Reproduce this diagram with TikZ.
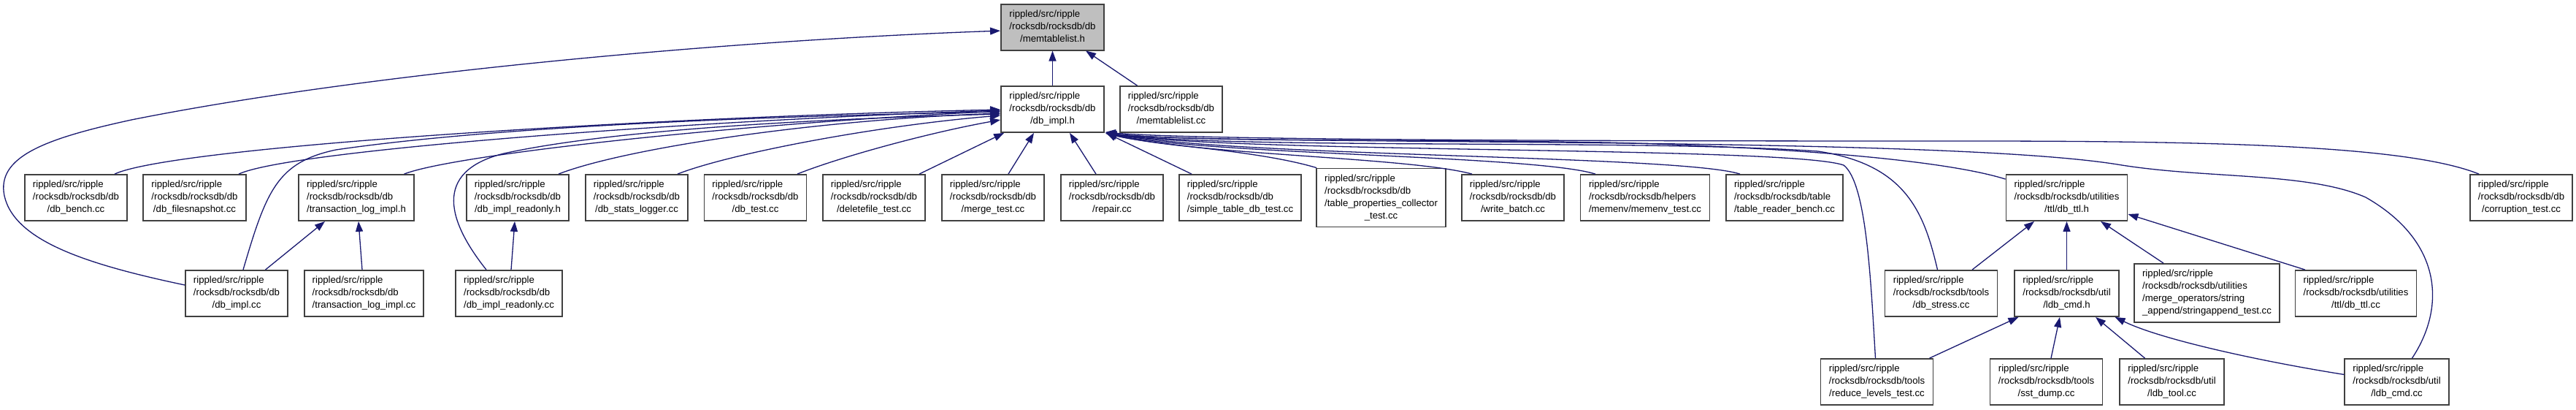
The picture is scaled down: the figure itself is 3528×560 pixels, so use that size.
\documentclass[tikz,border=0pt]{standalone}
\usepackage{fontspec}
\setmainfont{Liberation Sans}
\usetikzlibrary{arrows.meta}
\definecolor{edgeblue}{HTML}{191970}
\definecolor{rootgray}{HTML}{BFBFBF}
\definecolor{boxline}{HTML}{404040}
\newcommand{\dlbl}[3]{\begin{tabular}{@{}l@{}}#1\\#2\\\multicolumn{1}{@{}c@{}}{#3}\end{tabular}}
\newcommand{\dlblq}[4]{\begin{tabular}{@{}l@{}}#1\\#2\\#3\\\multicolumn{1}{@{}c@{}}{#4}\end{tabular}}
\begin{document}
\begin{tikzpicture}[x=1pt,y=-1pt,
  filebox/.style={draw=boxline,line width=1.8pt,fill=white,rectangle,inner xsep=11pt,inner ysep=6pt,minimum height=63pt,font=\fontsize{13.2}{17}\selectfont},
  rootbox/.style={filebox,fill=rootgray},
  dep/.style={draw=edgeblue,line width=1.3pt,-{Triangle[length=14pt,width=10pt]}}]
\fill[white] (0,0) rectangle (3528,560);
\useasboundingbox (0,0) rectangle (3528,560);
% row 1
\node[rootbox,minimum width=141pt] (mth) at (1441.5,37.1) {\dlbl{rippled/src/ripple}{/rocksdb/rocksdb/db}{/memtablelist.h}};
% row 2
\node[filebox,minimum width=141pt] (dbih) at (1441.5,149.5) {\dlbl{rippled/src/ripple}{/rocksdb/rocksdb/db}{/db\_impl.h}};
\node[filebox,minimum width=140pt] (mtcc) at (1604,149.5) {\dlbl{rippled/src/ripple}{/rocksdb/rocksdb/db}{/memtablelist.cc}};
% row 3
\node[filebox,minimum width=140pt] (dbbench) at (104,270.5) {\dlbl{rippled/src/ripple}{/rocksdb/rocksdb/db}{/db\_bench.cc}};
\node[filebox,minimum width=141pt] (fsnap) at (266.5,270.5) {\dlbl{rippled/src/ripple}{/rocksdb/rocksdb/db}{/db\_filesnapshot.cc}};
\node[filebox,minimum width=155pt] (tlih) at (488,270.5) {\dlbl{rippled/src/ripple}{/rocksdb/rocksdb/db}{/transaction\_log\_impl.h}};
\node[filebox,minimum width=140pt] (dbroh) at (709,270.5) {\dlbl{rippled/src/ripple}{/rocksdb/rocksdb/db}{/db\_impl\_readonly.h}};
\node[filebox,minimum width=140pt] (statslog) at (872,270.5) {\dlbl{rippled/src/ripple}{/rocksdb/rocksdb/db}{/db\_stats\_logger.cc}};
\node[filebox,minimum width=140pt] (dbtest) at (1034.5,270.5) {\dlbl{rippled/src/ripple}{/rocksdb/rocksdb/db}{/db\_test.cc}};
\node[filebox,minimum width=140pt] (delfile) at (1197,270.5) {\dlbl{rippled/src/ripple}{/rocksdb/rocksdb/db}{/deletefile\_test.cc}};
\node[filebox,minimum width=140pt] (merge) at (1360,270.5) {\dlbl{rippled/src/ripple}{/rocksdb/rocksdb/db}{/merge\_test.cc}};
\node[filebox,minimum width=140pt] (repair) at (1523,270.5) {\dlbl{rippled/src/ripple}{/rocksdb/rocksdb/db}{/repair.cc}};
\node[filebox,minimum width=166pt] (simple) at (1698.5,270.5) {\dlbl{rippled/src/ripple}{/rocksdb/rocksdb/db}{/simple\_table\_db\_test.cc}};
\node[filebox,minimum width=174pt,minimum height=80pt] (tprop) at (1891.5,270.5) {\dlblq{rippled/src/ripple}{/rocksdb/rocksdb/db}{/table\_properties\_collector}{\_test.cc}};
\node[filebox,minimum width=140pt] (wbatch) at (2072,270.5) {\dlbl{rippled/src/ripple}{/rocksdb/rocksdb/db}{/write\_batch.cc}};
\node[filebox,minimum width=177pt] (memenv) at (2253,270.5) {\dlbl{rippled/src/ripple}{/rocksdb/rocksdb/helpers}{/memenv/memenv\_test.cc}};
\node[filebox,minimum width=157pt] (trbench) at (2444,270.5) {\dlbl{rippled/src/ripple}{/rocksdb/rocksdb/table}{/table\_reader\_bench.cc}};
\node[filebox,minimum width=166pt] (dbttlh) at (2830.5,270.5) {\dlbl{rippled/src/ripple}{/rocksdb/rocksdb/utilities}{/ttl/db\_ttl.h}};
\node[filebox,minimum width=140pt] (corrupt) at (3453,270.5) {\dlbl{rippled/src/ripple}{/rocksdb/rocksdb/db}{/corruption\_test.cc}};
% row 4
\node[filebox,minimum width=140pt] (dbicc) at (324,401.5) {\dlbl{rippled/src/ripple}{/rocksdb/rocksdb/db}{/db\_impl.cc}};
\node[filebox,minimum width=162pt] (tlicc) at (498.5,401.5) {\dlbl{rippled/src/ripple}{/rocksdb/rocksdb/db}{/transaction\_log\_impl.cc}};
\node[filebox,minimum width=145pt] (droc) at (697,401.5) {\dlbl{rippled/src/ripple}{/rocksdb/rocksdb/db}{/db\_impl\_readonly.cc}};
\node[filebox,minimum width=154pt] (stress) at (2658.5,401.5) {\dlbl{rippled/src/ripple}{/rocksdb/rocksdb/tools}{/db\_stress.cc}};
\node[filebox,minimum width=142pt] (ldbh) at (2830.5,401.5) {\dlbl{rippled/src/ripple}{/rocksdb/rocksdb/util}{/ldb\_cmd.h}};
\node[filebox,minimum width=196pt,minimum height=80pt] (strapp) at (3022.5,401) {\dlblq{rippled/src/ripple}{/rocksdb/rocksdb/utilities}{/merge\_operators/string}{\_append/stringappend\_test.cc}};
\node[filebox,minimum width=166pt] (dbttlcc) at (3226.5,401.5) {\dlbl{rippled/src/ripple}{/rocksdb/rocksdb/utilities}{/ttl/db\_ttl.cc}};
% row 5
\node[filebox,minimum width=154pt] (reduce) at (2570.5,522.5) {\dlbl{rippled/src/ripple}{/rocksdb/rocksdb/tools}{/reduce\_levels\_test.cc}};
\node[filebox,minimum width=154pt] (sst) at (2802.5,522.5) {\dlbl{rippled/src/ripple}{/rocksdb/rocksdb/tools}{/sst\_dump.cc}};
\node[filebox,minimum width=142pt] (ldbtool) at (2974.5,522.5) {\dlbl{rippled/src/ripple}{/rocksdb/rocksdb/util}{/ldb\_tool.cc}};
\node[filebox,minimum width=142pt] (ldbcc) at (3282.5,522.5) {\dlbl{rippled/src/ripple}{/rocksdb/rocksdb/util}{/ldb\_cmd.cc}};
% edges into memtablelist.h
\draw[dep] (dbih.north) -- (mth.south);
\draw[dep] ([xshift=-46.5pt]mtcc.north) -- ([xshift=45.5pt]mth.south);
\draw[dep] ([yshift=11.5pt]dbicc.west) .. controls (120,362) and (20,330) .. (6,268) .. controls (-5,215) and (60,190) .. (180,164) .. controls (500,100) and (1000,55) .. ([yshift=-5pt]mth.west);
% left fan into db_impl.h
\draw[dep] ([xshift=53pt]dbbench.north) .. controls (240,200) and (900,160) .. ([yshift=-0.5pt]dbih.west);
\draw[dep] ([xshift=60.5pt]fsnap.north) .. controls (400,205) and (950,165) .. ([yshift=-1.5pt]dbih.west);
\draw[dep] ([xshift=65.5pt]tlih.north) .. controls (620,212) and (1000,170) .. ([yshift=-2.5pt]dbih.west);
\draw[dep] ([xshift=9pt]dbicc.north) .. controls (365,260) and (380,222) .. (460,205) .. controls (700,170) and (1100,158) .. ([yshift=-3.5pt]dbih.west);
\draw[dep] ([xshift=56pt]dbroh.north) .. controls (850,205) and (1100,165) .. ([yshift=-5.5pt]dbih.west);
\draw[dep] ([xshift=-31pt]droc.north) .. controls (615,305) and (590,235) .. (690,210) .. controls (850,175) and (1150,162) .. ([yshift=-6.5pt]dbih.west);
\draw[dep] ([xshift=56pt]statslog.north) .. controls (1000,210) and (1200,172) .. ([yshift=-8.5pt]dbih.west);
\draw[dep] ([xshift=57.5pt]dbtest.north) .. controls (1150,215) and (1270,182) .. ([yshift=-14.5pt]dbih.west);
% bottom into db_impl.h
\draw[dep] ([xshift=62pt]delfile.north) -- ([xshift=5pt]dbih.south west);
\draw[dep] ([xshift=21pt]merge.north) -- ([xshift=-25.5pt]dbih.south);
\draw[dep] ([xshift=-22pt]repair.north) -- ([xshift=23.5pt]dbih.south);
\draw[dep] ([xshift=-66.5pt]simple.north) -- ([xshift=2pt]dbih.south east);
% right fan into db_impl.h
\draw[dep] ([xshift=1pt]tprop.north west) .. controls (1720,205) and (1590,200) .. ([xshift=2pt,yshift=-1pt]dbih.south east);
\draw[dep] ([xshift=-56pt]wbatch.north) .. controls (1930,215) and (1640,212) .. ([xshift=2pt,yshift=-0.5pt]dbih.south east);
\draw[dep] ([xshift=-68pt]memenv.north) .. controls (2100,212) and (1650,212) .. ([xshift=2pt]dbih.south east);
\draw[dep] ([xshift=-61pt]trbench.north) .. controls (2300,212) and (1700,215) .. ([xshift=2pt]dbih.south east);
\draw[dep] ([yshift=-7pt]dbttlh.north west) .. controls (2650,215) and (2400,200) .. (2200,195) .. controls (1900,190) and (1640,195) .. ([xshift=1pt]dbih.south east);
\draw[dep] ([xshift=-58pt]corrupt.north) .. controls (3300,200) and (3050,193) .. (2700,193) .. controls (2200,193) and (1640,192) .. ([xshift=1pt,yshift=1pt]dbih.south east);
\draw[dep] ([xshift=-5pt]stress.north) .. controls (2635,290) and (2610,225) .. (2490,207) .. controls (2250,190) and (1680,205) .. ([xshift=1pt]dbih.south east);
\draw[dep] ([xshift=-2pt]reduce.north) .. controls (2562,380) and (2556,250) .. (2525,226) .. controls (2450,200) and (1700,210) .. ([xshift=2pt,yshift=-0.5pt]dbih.south east);
\draw[dep] ([xshift=21pt]ldbcc.north) .. controls (3350,420) and (3345,330) .. (3240,270) .. controls (3160,235) and (3020,245) .. (2900,225) .. controls (2650,185) and (1700,200) .. ([xshift=2pt,yshift=-1pt]dbih.south east);
% lower-level edges
\draw[dep] ([xshift=39.5pt]dbicc.north) -- ([xshift=-43pt]tlih.south);
\draw[dep] ([xshift=-2.5pt]tlicc.north) -- ([xshift=3pt]tlih.south);
\draw[dep] ([xshift=3pt]droc.north) -- ([xshift=-4pt]dbroh.south);
\draw[dep] ([xshift=42.5pt]stress.north) -- ([xshift=-44.5pt]dbttlh.south);
\draw[dep] (ldbh.north) -- (dbttlh.south);
\draw[dep] ([xshift=-59.5pt]strapp.north) -- ([xshift=46.5pt]dbttlh.south);
\draw[dep] ([xshift=-69.5pt]dbttlcc.north) -- ([yshift=-22.5pt]dbttlh.east);
\draw[dep] ([xshift=72pt]reduce.north) -- ([xshift=6pt]ldbh.south west);
\draw[dep] ([xshift=6.5pt]sst.north) -- ([xshift=-9.5pt]ldbh.south);
\draw[dep] ([xshift=-37pt]ldbtool.north) -- ([xshift=39.5pt]ldbh.south);
\draw[dep] ([yshift=10pt]ldbcc.west) .. controls (3100,495) and (2960,465) .. ([xshift=-6pt]ldbh.south east);
\end{tikzpicture}
\end{document}
